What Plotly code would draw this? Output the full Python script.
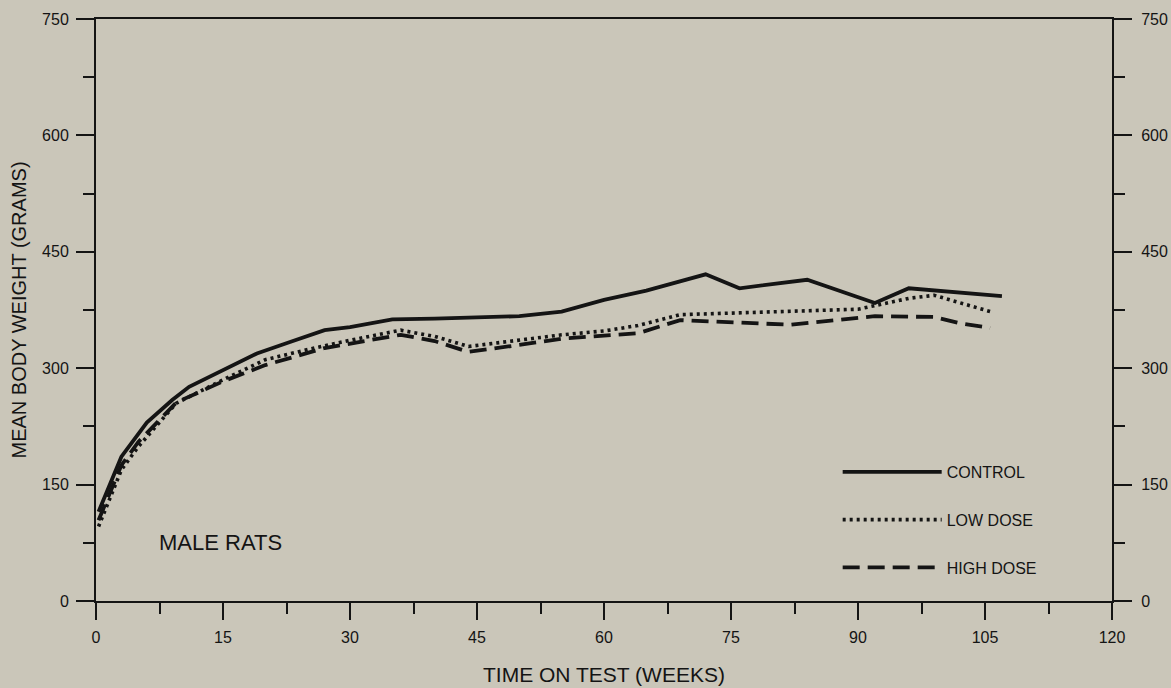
import plotly.graph_objects as go

# ---- data ----
control_weeks = [0.3, 3, 6, 9, 11, 15, 19, 23, 27, 30, 35, 40, 45, 50, 55, 60, 65, 72, 76, 84, 92, 96, 107]
control_wt = [115, 186, 230, 259, 276, 298, 319, 334, 349, 353, 363, 364, 366, 367, 373, 388, 400, 421, 403, 414, 384, 403, 393]

low_weeks = [0.3, 3, 5, 9.5, 15, 20, 25, 30, 36, 40, 44, 50, 55, 60, 64, 69, 78, 90, 96, 99, 105.6]
low_wt = [96, 169, 199, 255, 285, 311, 324, 336, 349, 341, 328, 336, 343, 348, 355, 369, 372, 376, 390, 394, 373]

high_weeks = [0.3, 3, 5, 9.5, 15, 20, 27, 30, 36, 40, 44, 50, 55, 60, 64, 69, 82, 92, 99, 102, 105.6]
high_wt = [104, 175, 205, 256, 283, 304, 326, 332, 343, 335, 321, 330, 338, 342, 345, 362, 356, 367, 366, 358, 352]

x_ticks = [0, 15, 30, 45, 60, 75, 90, 105, 120]
y_ticks = [0, 150, 300, 450, 600, 750]

BG = "#cac6b9"
INK = "#141414"
FONT = "Liberation Sans, Arial, sans-serif"

fig = go.Figure()
fig.add_trace(go.Scatter(x=control_weeks, y=control_wt, mode="lines", name="CONTROL",
                         legendgroup="a", yaxis="y2", line=dict(color=INK, width=3.8)))
fig.add_trace(go.Scatter(x=low_weeks, y=low_wt, mode="lines", name="LOW DOSE",
                         legendgroup="b", line=dict(color=INK, width=3.6, dash="3px,4px")))
fig.add_trace(go.Scatter(x=high_weeks, y=high_wt, mode="lines", name="HIGH DOSE",
                         legendgroup="c", line=dict(color=INK, width=3.8, dash="17px,8px")))

axis_common = dict(showgrid=False, zeroline=False, showline=True, linecolor=INK, linewidth=2,
                   ticks="outside", tickcolor=INK, tickwidth=2, automargin=False,
                   tickfont=dict(family=FONT, size=16, color=INK))

fig.update_layout(
    width=1171, height=688,
    margin=dict(l=96, r=59, t=19, b=87, autoexpand=False),
    paper_bgcolor=BG, plot_bgcolor=BG,
    font=dict(family=FONT, color=INK),
    showlegend=True,
    legend=dict(x=0.730, y=0.251, xanchor="left", yanchor="top",
                bgcolor="rgba(0,0,0,0)", font=dict(family=FONT, size=16, color=INK),
                itemwidth=99, tracegroupgap=24, traceorder="grouped"),
    xaxis=dict(range=[0, 120], tickvals=x_ticks, ticklen=17, mirror=True,
               minor=dict(dtick=7.5, tick0=0, ticklen=11, tickwidth=2, tickcolor=INK, ticks="outside"),
               title=dict(text="TIME ON TEST (WEEKS)", font=dict(family=FONT, size=21, color=INK), standoff=22),
               ticklabelstandoff=4,
               **axis_common),
    yaxis=dict(range=[0, 750], tickvals=y_ticks, ticklen=18,
               minor=dict(dtick=75, tick0=0, ticklen=11, tickwidth=2, tickcolor=INK, ticks="outside"),
               title=dict(text="MEAN BODY WEIGHT (GRAMS)", font=dict(family=FONT, size=20, color=INK), standoff=10),
               ticklabelstandoff=4,
               **axis_common),
    yaxis2=dict(range=[0, 750], tickvals=y_ticks, ticklen=18, overlaying="y", side="right",
                minor=dict(dtick=75, tick0=0, ticklen=11, tickwidth=2, tickcolor=INK, ticks="outside"),
                ticklabelstandoff=6,
                **axis_common),
    annotations=[dict(x=7.2, y=75, xref="x", yref="y", text="MALE RATS", showarrow=False,
                      xanchor="left", yanchor="middle", font=dict(family=FONT, size=22, color=INK))],
)

fig.write_html("out.html", config={"displayModeBar": False},
               post_script="document.body.style.margin='0';document.body.style.background='" + BG + "';")
